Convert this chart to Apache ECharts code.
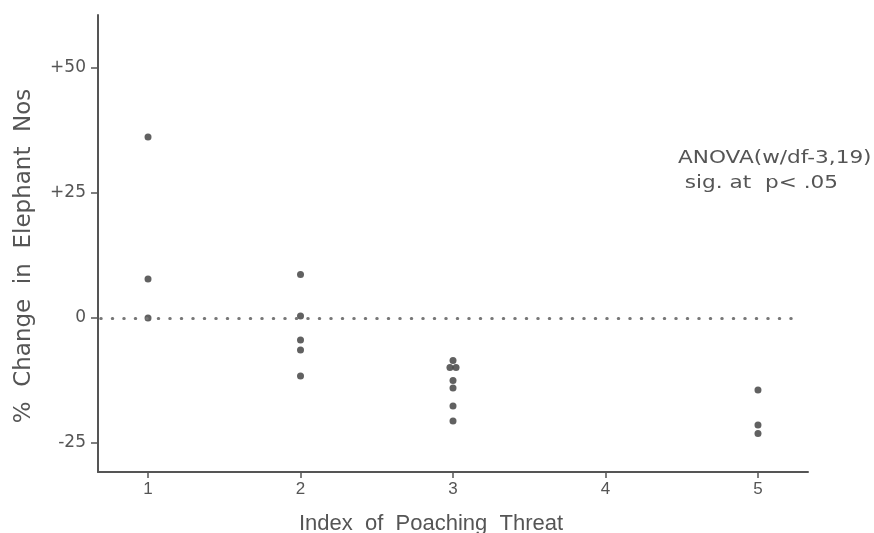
<!DOCTYPE html>
<html>
<head>
<meta charset="utf-8">
<script src="https://cdn.jsdelivr.net/npm/echarts@6/dist/echarts.min.js"></script>
<style>
  html, body { margin: 0; padding: 0; background: #fff; }
  #chart { width: 874px; height: 533px; }
</style>
</head>
<body>
<div id="chart"></div>
<script>
// poaching threat index of each site, and % change in elephant numbers
var poachIndex = [1, 1, 1, 2, 2, 2, 2, 2, 3, 2.98, 3.02, 3, 3, 3, 3, 5, 5, 5];
var pctChange = [36.2, 7.8, 0, 8.7, 0.4, -4.4, -6.4, -11.6, -8.5, -9.9, -9.9, -12.5, -14, -17.6, -20.6, -14.4, -21.4, -23.1];

var xTicks = [1, 2, 3, 4, 5];
var yTicks = [-25, 0, 25, 50];
var yTickLabels = ['-25', '0', '+25', '+50'];

var annotation = ['ANOVA(w/df-3,19)', ' sig. at  p< .05'];

var ink = '#555';
var points = [];
for (var i = 0; i < poachIndex.length; i++) {
  points.push([poachIndex[i], pctChange[i]]);
}

var chart = echarts.init(document.getElementById('chart'));

var option = {
  backgroundColor: '#fff',
  animation: false,
  grid: {
    left: 98,
    right: 66,
    top: 15,
    bottom: 61,
    outerBoundsMode: 'none'
  },
  xAxis: {
    type: 'value',
    min: 0.672,
    max: 5.328,
    name: 'Index  of  Poaching  Threat',
    nameLocation: 'middle',
    nameGap: 41,
    nameTextStyle: {
      color: ink,
      fontSize: 22,
      fontFamily: 'Liberation Sans Narrow, Liberation Sans, sans-serif',
      padding: [0, 44, 0, 0]
    },
    splitLine: { show: false },
    axisLine: { show: true, onZero: false, lineStyle: { color: ink, width: 2 } },
    axisTick: {
      show: true,
      customValues: xTicks,
      length: 6,
      lineStyle: { color: ink, width: 1.5 }
    },
    axisLabel: {
      customValues: xTicks,
      margin: 9,
      color: ink,
      fontSize: 17,
      fontFamily: 'Liberation Sans Narrow, Liberation Sans, sans-serif'
    }
  },
  yAxis: {
    type: 'value',
    min: -30.8,
    max: 60.6,
    name: '%  Change  in  Elephant  Nos',
    nameLocation: 'middle',
    nameGap: 62,
    nameTextStyle: {
      color: ink,
      fontSize: 23,
      fontFamily: 'DejaVu Sans, sans-serif',
      padding: [0, 25, 0, 0]
    },
    splitLine: { show: false },
    axisLine: { show: true, onZero: false, lineStyle: { color: ink, width: 2 } },
    axisTick: {
      show: true,
      customValues: yTicks,
      length: 7,
      lineStyle: { color: ink, width: 1.5 }
    },
    axisLabel: {
      customValues: yTicks,
      margin: 12,
      color: ink,
      fontSize: 17,
      fontFamily: 'DejaVu Sans, sans-serif',
      formatter: function (v) {
        return yTickLabels[yTicks.indexOf(v)];
      }
    }
  },
  graphic: [{
    type: 'text',
    x: 678,
    y: 146,
    scaleX: 1.2,
    style: {
      text: annotation.join('\n'),
      fill: ink,
      font: '18px "DejaVu Sans", sans-serif',
      lineHeight: 25
    }
  }],
  series: [{
    type: 'scatter',
    data: points,
    symbol: 'circle',
    symbolSize: 7,
    itemStyle: { color: '#3a3a3a' },
    markLine: {
      silent: true,
      symbol: 'none',
      label: { show: false },
      lineStyle: {
        color: '#777',
        width: 3,
        type: [0.5, 11],
        cap: 'round'
      },
      data: [[{ coord: [0.69, 0] }, { coord: [5.28, 0] }]]
    }
  }]
};

chart.setOption(option);
</script>
</body>
</html>
